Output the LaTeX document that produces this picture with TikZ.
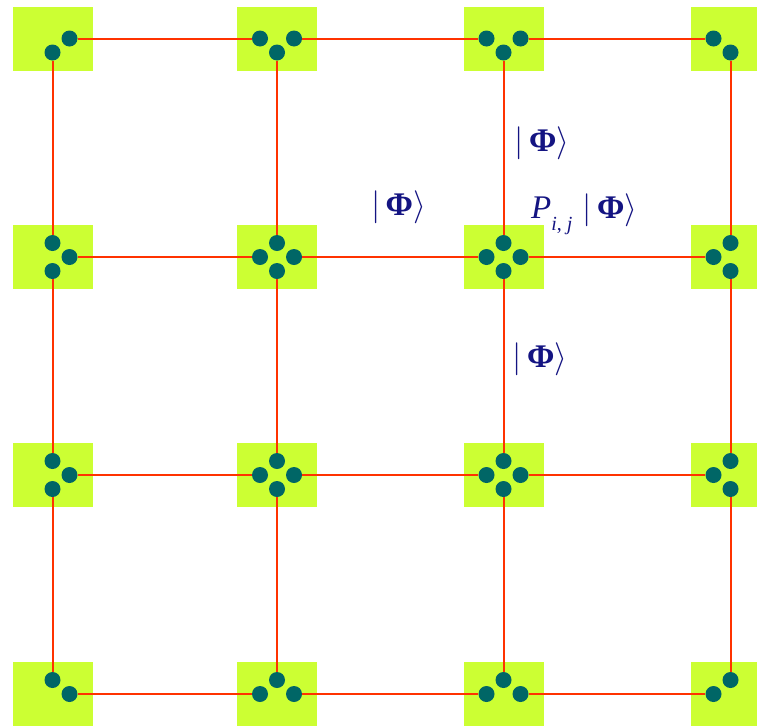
\RequirePackage{fix-cm}
\documentclass[tikz,border=0pt]{standalone}
\usepackage{fontspec}
\setmainfont{Liberation Serif}
\definecolor{lime}{RGB}{204,255,51}
\definecolor{teal}{RGB}{0,102,102}
\definecolor{redline}{RGB}{255,51,0}
\definecolor{navy}{RGB}{20,20,130}
\newcommand{\ketphi}{$|\,$\textbf{Φ}$\rangle$}
\begin{document}
\begin{tikzpicture}[x=1pt,y=-1pt,
  sq/.style={fill=lime,draw=none,minimum width=80pt,minimum height=64pt,inner sep=0pt},
  dot/.style={circle,fill=teal,draw=none,minimum size=16pt,inner sep=0pt},
  edge/.style={draw=redline,line width=2pt},
  lab/.style={text=navy,font=\fontsize{33}{36}\selectfont,inner sep=0pt}]
\clip (0,0) rectangle (757,726);
\foreach \i/\x in {1/52.5,2/277,3/503.5,4/730.5}{
  \foreach \j/\y in {1/38.5,2/257,3/475,4/694}{
    \node[sq] (s-\i-\j) at (\x,\y) {};
    \ifnum\i<4 \node[dot] (r-\i-\j) at (\x+17,\y) {};\fi
    \ifnum\i>1 \node[dot] (l-\i-\j) at (\x-17,\y) {};\fi
    \ifnum\j>1 \node[dot] (u-\i-\j) at (\x,\y-14) {};\fi
    \ifnum\j<4 \node[dot] (d-\i-\j) at (\x,\y+14) {};\fi
  }
}
\foreach \i/\n in {1/2,2/3,3/4}{
  \foreach \j in {1,2,3,4}{
    \draw[edge] (r-\i-\j) -- (l-\n-\j);
    \draw[edge] (d-\j-\i) -- (u-\j-\n);
  }
}
\node[lab] (k1) at (398.5,207) {\ketphi};
\node[lab] (k2) at (542,143) {\ketphi};
\node[lab] (k3) at (540,359) {\ketphi};
\node[lab,anchor=west] (p) at (531,214) {\textit{P}\raisebox{-0.35em}{\fontsize{20}{22}\selectfont\textit{i}, \textit{j}}\hspace{0.3em}\ketphi};
\end{tikzpicture}
\end{document}
